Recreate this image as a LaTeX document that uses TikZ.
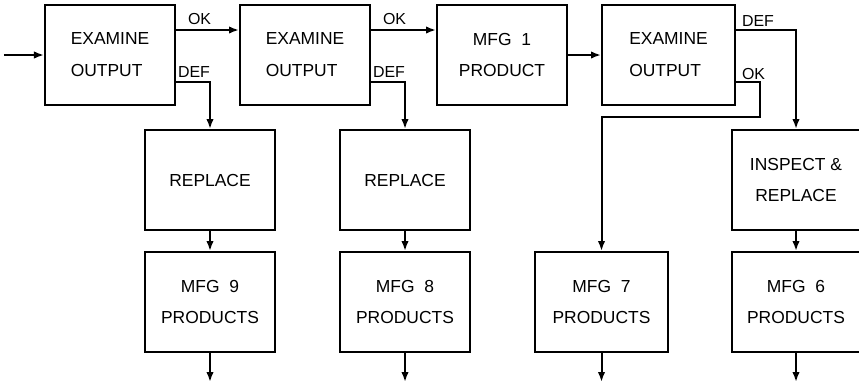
\documentclass[tikz,border=0pt]{standalone}
\usepackage{fontspec}
\setmainfont{Liberation Sans}
\usetikzlibrary{arrows.meta, positioning}

\begin{document}
\begin{tikzpicture}[x=1bp, y=-1bp, line width=2bp,
  blk/.style={draw, minimum width=130bp, minimum height=100bp, inner sep=0pt, align=center, font=\fontsize{17.5}{32}\selectfont},
  lbl/.style={inner sep=0pt, anchor=base west, font=\fontsize{16}{16}\selectfont},
  flow/.style={-{Latex[length=10bp,width=7.5bp]}},
]
  \path[use as bounding box] (0,0) rectangle (859,382);
  \clip (0,0) rectangle (859,382);

  % top row
  \node[blk, align=left] (exA) at (110,55) {EXAMINE\\OUTPUT};
  \node[blk, align=left] (exB) at (305,55) {EXAMINE\\OUTPUT};
  \node[blk] (mfgOne) at (502,55) {MFG\ \ 1\\PRODUCT};
  \node[blk, align=left, minimum width=133bp] (exC) at (668.5,55) {EXAMINE\\OUTPUT};
  % repair row
  \node[blk] (repA) at (210,180) {REPLACE};
  \node[blk] (repB) at (405,180) {REPLACE};
  \node[blk, minimum width=128bp] (insp) at (796,180) {INSPECT \&\\REPLACE};
  % product row
  \node[blk] (mfgNine)  at (210,302)   {MFG\ \ 9\\PRODUCTS};
  \node[blk] (mfgEight) at (405,302)   {MFG\ \ 8\\PRODUCTS};
  \node[blk, minimum width=133bp] (mfgSeven) at (601.5,302) {MFG\ \ 7\\PRODUCTS};
  \node[blk, minimum width=128bp] (mfgSix)   at (796,302)   {MFG\ \ 6\\PRODUCTS};

  % free ends
  \coordinate[left=40bp of exA] (feed);
  \coordinate[below=29bp of mfgNine]  (outNine);
  \coordinate[below=29bp of mfgEight] (outEight);
  \coordinate[below=29bp of mfgSeven] (outSeven);
  \coordinate[below=29bp of mfgSix]   (outSix);
  \coordinate (okBend) at (760,117);

  % connectors
  \draw[flow] (feed) -- (exA);
  \draw[flow] ([yshift=25bp]exA.east) -- ([yshift=25bp]exB.west);
  \draw[flow] ([yshift=-27bp]exA.east) -| (repA.north);
  \draw[flow] ([yshift=25bp]exB.east) -- ([yshift=25bp]mfgOne.west);
  \draw[flow] ([yshift=-27bp]exB.east) -| (repB.north);
  \draw[flow] (mfgOne) -- (exC);
  \draw[flow] ([yshift=25bp]exC.east) -| (insp.north);
  \draw[flow] ([yshift=-27bp]exC.east) -| (okBend) -| (mfgSeven.north);
  \draw[flow] (repA) -- (mfgNine);
  \draw[flow] (repB) -- (mfgEight);
  \draw[flow] (insp) -- (mfgSix);
  \draw[flow] (mfgNine) -- (outNine);
  \draw[flow] (mfgEight) -- (outEight);
  \draw[flow] (mfgSeven) -- (outSeven);
  \draw[flow] (mfgSix) -- (outSix);

  % branch labels
  \node[lbl] (okA)  at (187,24) {OK};
  \node[lbl] (defA) at (177,77) {DEF};
  \node[lbl] (okB)  at (382,24) {OK};
  \node[lbl] (defB) at (372,77) {DEF};
  \node[lbl] (defC) at (741,26) {DEF};
  \node[lbl] (okC)  at (741,79) {OK};
\end{tikzpicture}
\end{document}
